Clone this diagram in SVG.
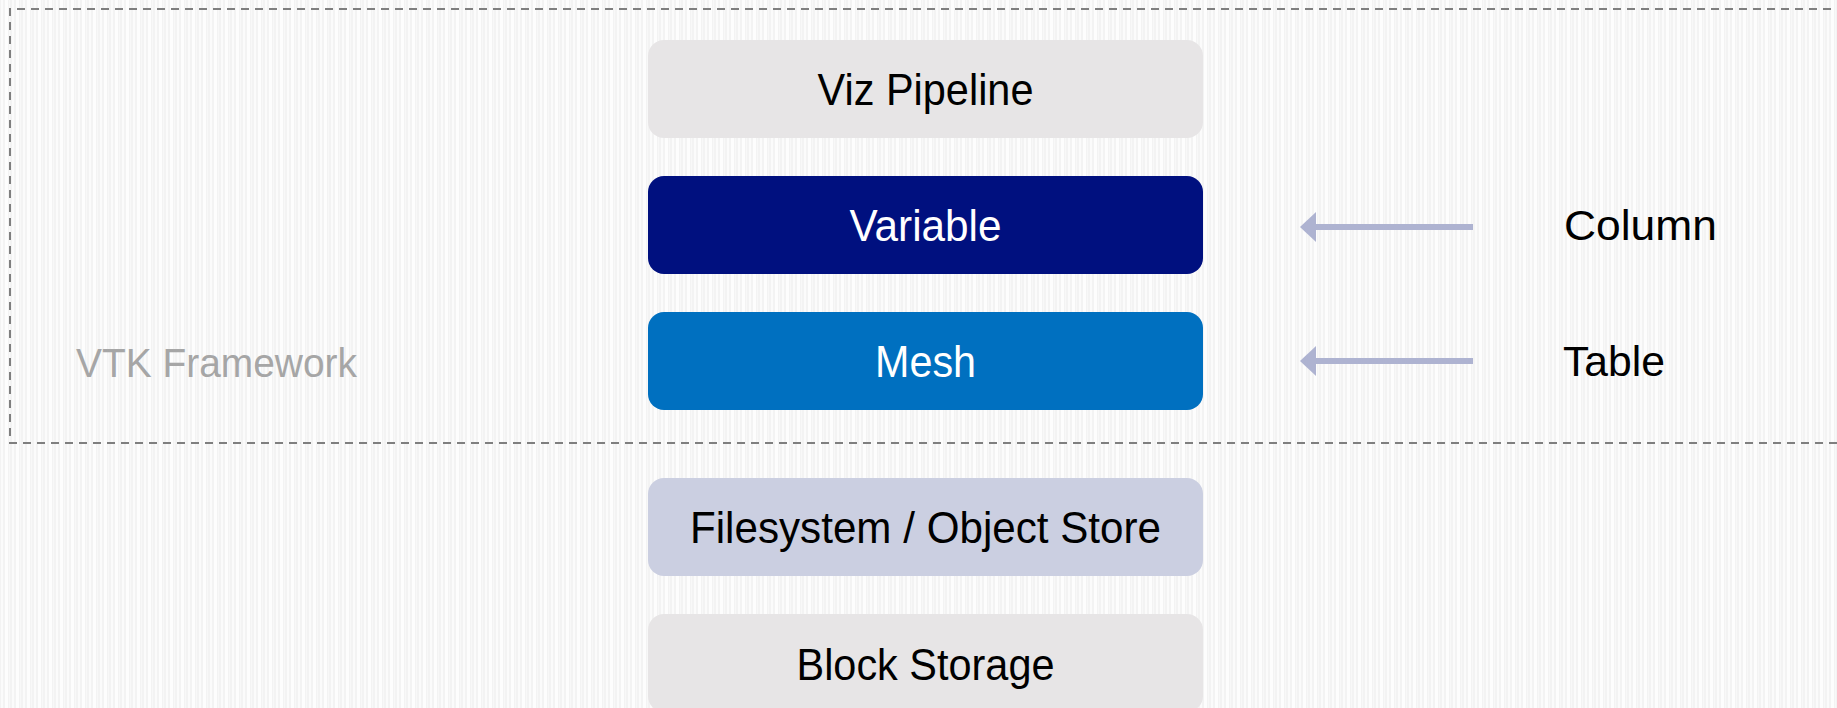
<svg xmlns="http://www.w3.org/2000/svg" width="1837" height="708" viewBox="0 0 1837 708">
  <defs>
    <!-- fine vertical pinstripe texture for the page -->
    <pattern id="pinstripe" x="0" y="0" width="11" height="10" patternUnits="userSpaceOnUse">
      <rect width="11" height="10" fill="#f3f3f3"/>
      <rect x="1" width="2" height="10" fill="#fbfbfb"/>
      <rect x="5" width="3" height="10" fill="#fdfdfd"/>
      <rect x="9" width="1" height="10" fill="#f8f8f8"/>
    </pattern>
    <!-- triangular head; tip lies along the direction of travel -->
    <marker id="head" viewBox="0 0 16 30" refX="0" refY="15" markerWidth="16" markerHeight="30" markerUnits="userSpaceOnUse" orient="auto">
      <path d="M16,15 L0,0 L0,30 Z" fill="#aeb3d1"/>
    </marker>
  </defs>
  <style>
    .layer { stroke: none; }
    .cond { font-family: "Liberation Sans", Arial, sans-serif; font-size: 44px; text-anchor: middle; }
    .side { font-family: "Liberation Sans", Arial, sans-serif; font-size: 42px; fill: #000000; }
    .feed { stroke: #aeb3d1; stroke-width: 6; fill: none; }
  </style>

  <rect width="1837" height="708" fill="url(#pinstripe)"/>

  <!-- dashed framework boundary, open on the right -->
  <g id="vtk-framework">
    <path d="M1845,9 H10 V443 H1845" fill="none" stroke="#7f7f7f" stroke-width="2" stroke-dasharray="8 6"/>
    <text x="76" y="377" font-family="Liberation Sans, Arial, sans-serif" font-size="40" fill="#a6a6a6" textLength="281" lengthAdjust="spacingAndGlyphs">VTK Framework</text>
  </g>

  <g id="viz-pipeline">
    <rect class="layer" x="648" y="40" width="555" height="98" rx="16" fill="#e7e5e6"/>
    <text class="cond" x="925.5" y="105" fill="#000000" textLength="216" lengthAdjust="spacingAndGlyphs">Viz Pipeline</text>
  </g>

  <g id="variable">
    <rect class="layer" x="648" y="176" width="555" height="98" rx="16" fill="#00107f"/>
    <text class="cond" x="925.5" y="241" fill="#ffffff" textLength="152" lengthAdjust="spacingAndGlyphs">Variable</text>
  </g>

  <g id="mesh">
    <rect class="layer" x="648" y="312" width="555" height="98" rx="16" fill="#0070c0"/>
    <text class="cond" x="925.5" y="377" fill="#ffffff" textLength="101" lengthAdjust="spacingAndGlyphs">Mesh</text>
  </g>

  <g id="object-store">
    <rect class="layer" x="648" y="478" width="555" height="98" rx="16" fill="#cbcfe1"/>
    <text class="cond" x="925.5" y="543" fill="#000000" textLength="471" lengthAdjust="spacingAndGlyphs">Filesystem / Object Store</text>
  </g>

  <g id="block-storage">
    <rect class="layer" x="648" y="614" width="555" height="98" rx="16" fill="#e7e5e6"/>
    <text class="cond" x="925.5" y="680" fill="#000000" textLength="258" lengthAdjust="spacingAndGlyphs">Block Storage</text>
  </g>

  <g id="column">
    <text class="side" x="1564" y="240" textLength="153" lengthAdjust="spacingAndGlyphs">Column</text>
  </g>

  <g id="table">
    <text class="side" x="1563" y="376" textLength="102" lengthAdjust="spacingAndGlyphs">Table</text>
  </g>

  <g id="connectors">
    <line class="feed" x1="1473" y1="227" x2="1316" y2="227" marker-end="url(#head)"/>
    <line class="feed" x1="1473" y1="361" x2="1316" y2="361" marker-end="url(#head)"/>
  </g>
</svg>
